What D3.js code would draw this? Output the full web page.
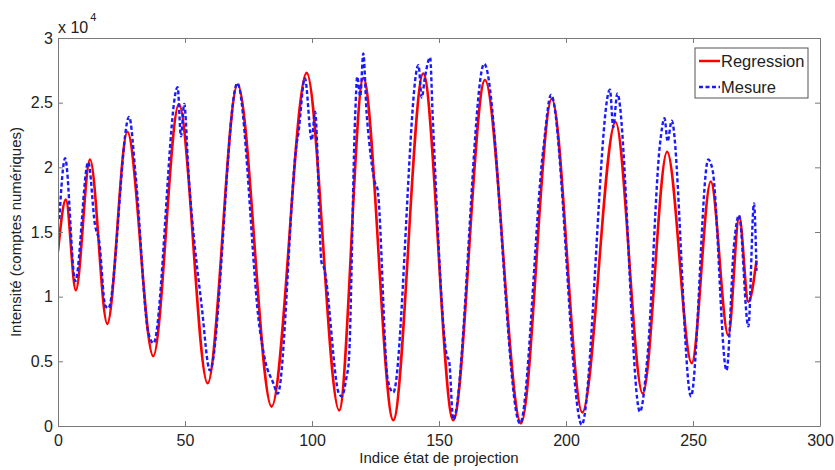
<!DOCTYPE html>
<html>
<head>
<meta charset="utf-8">
<script src="https://cdn.jsdelivr.net/npm/d3@7"></script>
<style>
  html, body { margin: 0; padding: 0; background: #fff; overflow: hidden; }
  svg { display: block; }
  text { font-family: "Liberation Sans", Arial, Helvetica, sans-serif; fill: #222; }
</style>
</head>
<body>
<svg id="mainsvg" width="835" height="470"></svg>
<script>
// regression curve, read at its extrema (index, intensity)
const regIdx = [0, 3.1, 7.0, 12.6, 19.4, 27.3, 37.5, 47.6, 58.9, 70.7, 84.1, 97.9, 110.7, 120.2, 132,
  143.8, 155.6, 168.1, 182.3, 194.4, 206.4, 219.5, 230.2, 239.8, 249.5, 257, 263.9, 268.2, 271.8, 275];
const regVal = [13500, 17500, 10500, 20600, 7900, 22750, 5400, 24900, 3300, 26400, 1500, 27300, 1200, 26900, 450,
  27250, 450, 26750, 200, 25300, 1050, 23500, 2500, 21200, 4850, 18900, 7000, 16200, 9600, 12800];

// measured curve, extrema and visible bumps
const mesIdx = [0.5, 2.8, 6.8, 11.9, 14.6, 16.2, 18.6, 19.8, 28.0, 30.6, 35.5, 37.6, 47.1, 48.4, 49.7, 51.3,
  56.6, 59.8, 70.6, 79.5, 81.5, 84.8, 86.5, 94.0, 94.6, 97.2, 99.9, 101.2, 103.8, 104.6, 110.6, 111.7, 113.6,
  114.5, 117.0, 117.8, 119.0, 120.2, 121.5, 122.5, 124.8, 125.8, 129.8, 132.0, 141.9, 143.2, 144.5, 146.5,
  147.5, 153.0, 154.0, 155.6, 167.8, 181.9, 191.0, 194.1, 206.2, 217.3, 218.6, 220.2, 229.1, 232.0, 237.0,
  238.8, 240.0, 241.6, 249.2, 256.0, 257.7, 263.2, 266.1, 268.1, 271.8, 274.0, 275.0];
const mesVal = [16000, 20700, 11200, 20400, 15500, 14300, 9300, 9100, 23900, 19300, 7300, 6400, 26200, 22400, 24900, 19800,
  9200, 4300, 26500, 7400, 5100, 3300, 2500, 21900, 22600, 26900, 22100, 24300, 12600, 12300, 2500, 2300, 3800,
  5000, 24000, 27000, 25500, 28800, 24200, 22000, 18800, 18300, 3600, 2600, 27900, 25400, 27000, 28500,
  24000, 5500, 5000, 500, 28000, 200, 21300, 25600, 100, 26000, 23100, 25700, 1100, 5200, 21800,
  23800, 22000, 23600, 2300, 20600, 19800, 4300, 13900, 16300, 7700, 17200, 12000];

const xTicks = [0, 50, 100, 150, 200, 250, 300];
const yTicks = [0, 5000, 10000, 15000, 20000, 25000, 30000];
const yTickLabels = ['0', '0.5', '1', '1.5', '2', '2.5', '3'];

const svg = d3.select('#mainsvg');
const margin = {top: 38, right: 15, bottom: 44, left: 58};
const width = +svg.attr('width');
const height = +svg.attr('height');
const innerWidth = width - margin.left - margin.right;
const innerHeight = height - margin.top - margin.bottom;

const g = svg.append('g').attr('transform', `translate(${margin.left}, ${margin.top})`);

const xScale = d3.scaleLinear().domain([0, 300]).range([0, innerWidth]);
const yScale = d3.scaleLinear().domain([0, 30000]).range([innerHeight, 0]);

g.append('clipPath').attr('id', 'clip')
  .append('rect').attr('width', innerWidth).attr('height', innerHeight);

const line = d3.line()
  .x(d => xScale(d[0]))
  .y(d => yScale(d[1]))
  .curve(d3.curveMonotoneX);

const regData = regIdx.map((x, i) => [x, regVal[i]]);
const mesData = mesIdx.map((x, i) => [x, mesVal[i]]);

const plot = g.append('g').attr('clip-path', 'url(#clip)');
plot.append('path').datum(regData)
  .attr('d', line)
  .attr('fill', 'none')
  .attr('stroke', '#ff0000')
  .attr('stroke-width', 2.6);
plot.append('path').datum(mesData)
  .attr('d', line)
  .attr('fill', 'none')
  .attr('stroke', '#1a1aff')
  .attr('stroke-width', 2.4)
  .attr('stroke-dasharray', '4,2.5');

// box with inward ticks, matlab style
const axisColor = '#7a7a7a';
const bottomAxis = d3.axisBottom(xScale).tickValues(xTicks).tickSizeInner(-5).tickSizeOuter(0).tickPadding(9);
const topAxis = d3.axisTop(xScale).tickValues(xTicks).tickSizeInner(-5).tickSizeOuter(0);
const leftAxis = d3.axisLeft(yScale).tickValues(yTicks).tickSizeInner(-5).tickSizeOuter(0).tickPadding(5)
  .tickFormat((d, i) => yTickLabels[i]);
const rightAxis = d3.axisRight(yScale).tickValues(yTicks).tickSizeInner(-5).tickSizeOuter(0);

g.append('g').attr('transform', `translate(0, ${innerHeight})`).call(bottomAxis);
g.append('g').call(topAxis).selectAll('text').remove();
g.append('g').call(leftAxis);
g.append('g').attr('transform', `translate(${innerWidth}, 0)`).call(rightAxis).selectAll('text').remove();

g.selectAll('.domain, .tick line').attr('stroke', axisColor);
g.selectAll('.tick text').attr('font-size', '16px').attr('fill', '#222')
  .attr('font-family', '"Liberation Sans", Arial, sans-serif');

// exponent above the y axis
const expo = g.append('text').attr('x', 0).attr('y', -5).attr('font-size', '16px');
expo.append('tspan').text('x 10');
expo.append('tspan').text('4').attr('font-size', '11px').attr('dy', -12).attr('dx', 2);

g.append('text')
  .text('Indice état de projection')
  .attr('x', innerWidth / 2)
  .attr('y', innerHeight + 37)
  .attr('text-anchor', 'middle')
  .attr('font-size', '15px');

g.append('text')
  .text('Intensité (comptes numériques)')
  .attr('transform', `translate(${-37}, ${innerHeight / 2}) rotate(-90)`)
  .attr('text-anchor', 'middle')
  .attr('font-size', '15px');

// legend
const legend = g.append('g').attr('transform', `translate(${innerWidth - 125}, 10)`);
legend.append('rect').attr('width', 113).attr('height', 50)
  .attr('fill', '#fff').attr('stroke', '#555').attr('stroke-width', 1);
const items = [
  {name: 'Regression', color: '#ff0000', dash: null},
  {name: 'Mesure', color: '#1a1aff', dash: '4,2.5'}
];
items.forEach((d, i) => {
  const y = 13 + i * 26;
  legend.append('line').attr('x1', 4).attr('x2', 25).attr('y1', y).attr('y2', y)
    .attr('stroke', d.color).attr('stroke-width', 2.5)
    .attr('stroke-dasharray', d.dash);
  legend.append('text').text(d.name).attr('x', 26).attr('y', y + 6).attr('font-size', '16.5px');
});
</script>
</body>
</html>
